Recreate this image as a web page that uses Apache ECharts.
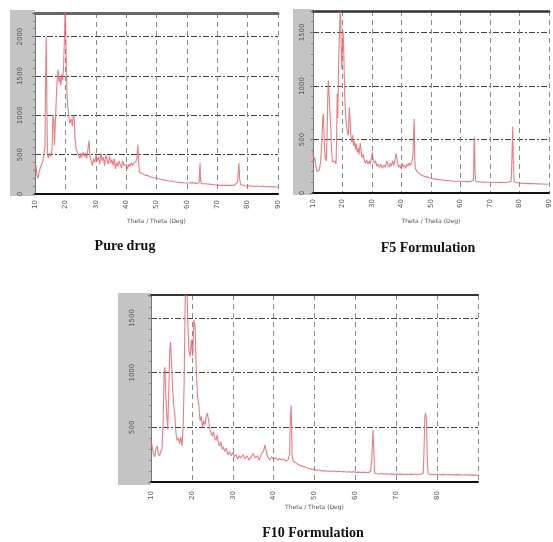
<!DOCTYPE html>
<html>
<head>
<meta charset="utf-8">
<script src="https://cdn.jsdelivr.net/npm/echarts@6/dist/echarts.min.js"></script>
<style>
html,body{margin:0;padding:0;background:#fff;}
#c{width:553px;height:542px;}
</style>
</head>
<body>
<div id="c"></div>
<script>
// ---- Data (2θ in degrees, intensity in counts) ----
const pureAngle = [10.0,10.3,10.6,11.0,11.4,11.8,12.2,12.6,13.0,13.3,13.5,13.7,13.9,14.1,14.4,14.8,15.2,15.6,15.9,16.2,16.4,16.7,17.0,17.3,17.6,17.9,18.2,18.5,18.8,19.1,19.4,19.7,19.95,20.2,20.5,20.8,21.1,21.4,21.7,22.0,22.3,22.6,22.9,23.2,23.5,23.8,24.1,24.4,24.8,25.1,25.4,25.8,26.2,26.6,27.0,27.4,27.8,28.1,28.5,28.9,29.3,29.7,30.1,30.5,30.9,31.3,31.7,32.1,32.5,32.9,33.3,33.7,34.1,34.5,34.9,35.3,35.7,36.1,36.5,36.9,37.3,37.7,38.1,38.5,38.9,39.3,39.7,40.1,40.5,40.9,41.3,41.7,42.1,42.5,42.9,43.3,43.6,43.9,44.1,44.4,44.8,45.2,45.7,46.2,46.8,47.4,48.0,48.6,49.2,49.8,50.4,51.0,51.6,52.2,52.8,53.4,54.0,54.6,55.2,55.8,56.4,57.0,57.6,58.2,58.8,59.4,60.0,60.6,61.2,61.8,62.4,63.0,63.6,64.0,64.2,64.35,64.5,64.8,65.4,66.0,66.6,67.2,67.8,68.4,69.0,69.6,70.2,70.8,71.4,72.0,72.6,73.2,73.8,74.4,75.0,75.6,76.2,76.7,77.0,77.15,77.35,77.7,78.3,79.0,79.8,80.6,81.4,82.2,83.0,84.0,85.0,86.0,87.0,88.0,89.0,90.0];
const pureIntensity = [300,360,250,200,280,340,380,420,430,600,1500,2000,1200,500,460,520,480,560,1000,950,620,600,1200,1450,1580,1420,1500,1380,1520,1450,1600,2000,2400,1900,1300,1100,1000,900,880,950,860,1000,950,700,580,600,520,540,450,520,470,530,480,520,450,560,680,480,420,360,450,400,500,420,470,380,520,420,470,360,500,430,380,480,390,440,360,450,320,400,350,420,370,330,420,360,340,380,320,380,350,400,360,390,380,420,470,630,420,280,300,260,270,240,250,230,240,210,220,200,210,190,200,180,190,170,180,165,170,155,160,150,160,145,150,140,145,140,135,145,130,135,130,140,300,390,180,130,125,130,120,125,115,120,110,115,120,110,115,110,105,112,105,110,105,110,108,150,320,390,200,120,110,105,100,105,100,98,100,95,98,92,95,90,92,88];

const f5Angle = [10.0,10.3,10.6,11.0,11.4,11.8,12.2,12.6,13.0,13.3,13.5,13.7,13.9,14.2,14.5,14.8,15.0,15.2,15.4,15.7,16.0,16.3,16.6,17.0,17.4,17.8,18.0,18.2,18.4,18.7,19.0,19.2,19.4,19.7,19.9,20.2,20.4,20.6,20.8,21.1,21.4,21.7,22.0,22.3,22.6,22.9,23.2,23.5,23.8,24.1,24.4,24.7,25.0,25.3,25.6,26.0,26.3,26.6,27.0,27.4,27.8,28.2,28.6,29.0,29.4,29.8,30.1,30.4,30.8,31.2,31.6,32.0,32.5,33.0,33.5,34.0,34.5,35.0,35.4,35.8,36.2,36.6,37.0,37.4,37.8,38.2,38.6,39.0,39.4,39.8,40.2,40.6,41.0,41.4,41.8,42.2,42.6,43.0,43.5,43.9,44.15,44.3,44.5,44.8,45.2,45.6,46.0,46.6,47.2,47.8,48.4,49.0,49.6,50.2,50.8,51.4,52.0,52.6,53.2,53.8,54.4,55.0,55.6,56.2,56.8,57.4,58.0,58.6,59.2,59.8,60.4,61.0,61.6,62.2,62.8,63.4,64.0,64.4,64.6,64.75,64.9,65.2,65.8,66.4,67.0,67.6,68.2,68.8,69.4,70.0,70.6,71.2,71.8,72.4,73.0,73.6,74.2,74.8,75.4,76.0,76.6,77.2,77.5,77.7,77.9,78.2,78.8,79.4,80.0,80.6,81.2,81.8,82.4,83.0,83.6,84.2,84.8,85.4,86.0,86.6,87.2,87.8,88.4,89.0,89.7];
const f5Intensity = [390,300,330,250,200,190,220,300,480,700,740,600,420,320,300,560,900,1050,950,780,620,400,290,280,300,270,500,930,700,1250,1500,1700,1600,1160,1300,1510,1350,1100,880,700,620,560,540,800,650,520,470,540,440,480,410,460,380,420,360,470,400,330,360,300,280,310,270,300,270,330,380,310,280,300,250,270,240,270,230,260,240,300,260,240,280,250,300,260,310,370,290,240,260,230,280,240,260,230,270,250,280,260,290,350,600,690,300,220,210,190,180,170,165,155,150,148,140,135,140,130,132,125,128,122,125,118,122,115,118,112,116,110,114,110,112,108,112,106,110,108,112,120,480,520,200,108,100,104,98,102,96,100,95,100,96,100,95,98,94,100,96,98,95,100,98,110,400,620,300,105,98,95,97,92,95,90,93,88,92,88,90,86,89,85,88,84,86,82,83];

const f10Angle = [10.0,10.3,10.6,10.9,11.2,11.5,11.8,12.1,12.4,12.7,13.0,13.2,13.4,13.6,13.9,14.1,14.4,14.6,14.8,15.0,15.3,15.5,15.8,16.1,16.4,16.7,17.0,17.3,17.6,17.9,18.1,18.4,18.7,19.0,19.3,19.6,19.9,20.2,20.5,20.8,21.1,21.4,21.7,22.0,22.3,22.6,22.9,23.2,23.5,23.8,24.1,24.4,24.7,25.0,25.3,25.6,25.9,26.2,26.5,26.8,27.1,27.4,27.7,28.0,28.4,28.8,29.2,29.6,30.0,30.4,30.8,31.2,31.6,32.0,32.5,33.0,33.5,34.0,34.5,35.0,35.5,36.0,36.5,37.0,37.5,37.9,38.3,38.7,39.1,39.5,40.0,40.5,41.0,41.5,42.0,42.5,43.0,43.5,43.9,44.1,44.3,44.5,44.8,45.2,45.6,46.0,46.5,47.0,47.5,48.0,48.5,49.0,49.5,50.0,50.6,51.2,51.8,52.4,53.0,53.6,54.2,54.8,55.4,56.0,56.6,57.2,57.8,58.4,59.0,59.6,60.2,60.8,61.4,62.0,62.6,63.2,63.7,64.0,64.3,64.5,64.7,65.2,65.8,66.4,67.0,67.6,68.2,68.8,69.4,70.0,70.6,71.2,71.8,72.4,73.0,73.6,74.2,74.8,75.4,76.0,76.6,76.8,77.0,77.2,77.4,77.6,77.8,78.4,79.0,79.8,80.6,81.4,82.2,83.0,84.0,85.0,86.0,87.0,88.0,89.0,90.0];
const f10Intensity = [385,320,260,230,300,330,260,240,280,300,600,1000,1050,800,600,480,900,1200,1280,1100,850,720,620,450,380,400,350,410,330,550,900,1750,1900,1450,1200,1150,1300,1150,1480,1420,1000,780,700,560,600,500,560,520,600,630,560,480,450,420,460,400,380,430,350,330,370,300,320,280,310,250,280,240,270,230,250,210,240,220,250,210,240,200,230,260,220,240,200,260,280,340,260,220,200,230,210,220,200,215,200,210,190,200,250,600,700,250,190,180,170,165,150,145,140,130,125,120,118,112,105,110,100,104,98,100,96,100,95,98,94,96,92,94,90,93,88,90,86,90,85,88,95,200,475,300,80,76,73,77,72,75,71,74,70,73,70,72,68,71,69,72,70,73,69,72,78,300,600,630,560,200,75,70,68,71,67,70,66,68,65,67,64,66,63,65,62];

const xTicks = [10,20,30,40,50,60,70,80,90];

const panels = [
  {angle: pureAngle, inten: pureIntensity, yMax: 2300, caption: 'Pure drug',
   grid: {left: 35, top: 13, width: 243, height: 181}, strip: [10, 10, 25, 186],
   yMargin: 11, xMargin: 6, nameGap: 24, showMaxX: true, showMinY: true, topW: 3, topC: '#666'},
  {angle: f5Angle, inten: f5Intensity, yMax: 1700, caption: 'F5 Formulation',
   grid: {left: 313, top: 11, width: 236, height: 182}, strip: [293, 9, 20, 186],
   yMargin: 7, xMargin: 6, nameGap: 25, showMaxX: true, showMinY: true, topW: 2.5, topC: '#333'},
  {angle: f10Angle, inten: f10Intensity, yMax: 1710, caption: 'F10 Formulation',
   grid: {left: 151, top: 295, width: 327, height: 187}, strip: [118, 293, 33, 192],
   yMargin: 15, xMargin: 9, nameGap: 22, showMaxX: false, showMinY: false, topW: 2, topC: '#333'}
];

const grids = [], xAxes = [], yAxes = [], series = [], graphics = [], titles = [];
panels.forEach((p, i) => {
  grids.push(p.grid);
  graphics.push({type: 'rect', z: -1, shape: {x: p.strip[0], y: p.strip[1], width: p.strip[2], height: p.strip[3]},
                 style: {fill: '#c4c4c4'}});
  xAxes.push({
    type: 'value', gridIndex: i, min: 10, max: 90, interval: 10,
    name: 'Theta / Theta (Deg)', nameLocation: 'middle', nameGap: p.nameGap,
    nameTextStyle: {fontSize: 6, color: '#555', fontFamily: 'DejaVu Sans'},
    axisLine: {lineStyle: {color: '#111', width: 2}},
    axisTick: {show: false},
    axisLabel: {rotate: 90, fontSize: 7, color: '#555', margin: p.xMargin, showMaxLabel: p.showMaxX,
                fontFamily: 'DejaVu Sans', formatter: v => String(v)},
    splitLine: {show: true, lineStyle: {color: '#8a8a8a', type: [5, 4], width: 1}}
  });
  xAxes.push({
    type: 'value', gridIndex: i, min: 10, max: 90, position: 'top',
    axisLine: {lineStyle: {color: p.topC, width: p.topW}},
    axisTick: {show: false}, axisLabel: {show: false}, splitLine: {show: false}
  });
  yAxes.push({
    type: 'value', gridIndex: i, min: 0, max: p.yMax, interval: 500,
    axisLine: {show: true, lineStyle: {color: '#777', width: 1}},
    axisTick: {show: true, length: 3, lineStyle: {color: '#777'}},
    minorTick: {show: true, splitNumber: 5, length: 2, lineStyle: {color: '#888'}},
    axisLabel: {rotate: 90, fontSize: 7, color: '#555', margin: p.yMargin, showMaxLabel: false,
                showMinLabel: p.showMinY, fontFamily: 'DejaVu Sans', formatter: v => String(v)},
    splitLine: {show: true, lineStyle: {color: '#444', type: [6, 2, 2, 2], width: 1.2}}
  });
  series.push({
    type: 'line', xAxisIndex: i * 2, yAxisIndex: i, showSymbol: false, clip: true,
    data: p.angle.map((a, k) => [a, p.inten[k]]),
    lineStyle: {color: '#ec5a62', width: 1.1, opacity: 0.8}
  });
});

titles.push({text: 'Pure drug', left: 125, top: 239, textAlign: 'center'});
titles.push({text: 'F5 Formulation', left: 428, top: 241, textAlign: 'center'});
titles.push({text: 'F10 Formulation', left: 313, top: 526, textAlign: 'center'});
titles.forEach(t => { t.textStyle = {fontFamily: 'Liberation Serif', fontWeight: 'bold', fontSize: 14, color: '#111'}; t.padding = 0; });

const chart = echarts.init(document.getElementById('c'), null, {renderer: 'canvas'});
chart.setOption({
  animation: false,
  backgroundColor: '#fff',
  title: titles,
  grid: grids,
  xAxis: xAxes,
  yAxis: yAxes,
  series: series,
  graphic: graphics
});
</script>
</body>
</html>
